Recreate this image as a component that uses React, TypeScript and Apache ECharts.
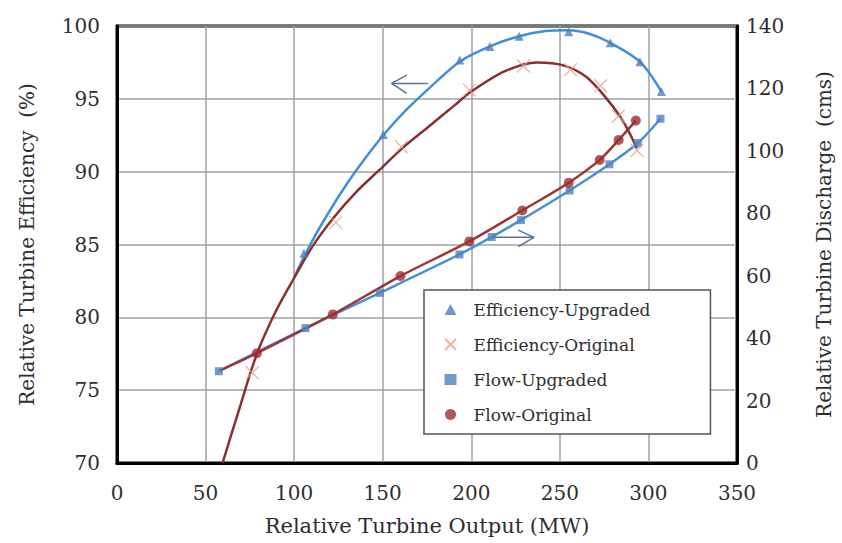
import React, { useEffect, useRef } from "react";
import * as echarts from "echarts";

// Markers: [output MW, value]
const effUpgraded: number[][] = [
  [105.5, 84.4], [150.3, 92.55], [193.5, 97.66], [210.5, 98.6], [227, 99.3],
  [255, 99.6], [278.5, 98.85], [295.2, 97.55], [307.3, 95.5],
];
const effOriginal: number[][] = [
  [76.4, 76.2], [123.5, 86.5], [160.5, 91.7], [199, 95.6], [229.5, 97.25],
  [256, 97.0], [273, 95.9], [283, 93.8], [293.5, 91.45],
];
const flowUpgraded: number[][] = [
  [57.5, 29.4], [106.4, 43.2], [148.4, 54.5], [193.3, 66.8], [211.5, 72.4],
  [228, 77.8], [255.5, 87.3], [278, 95.7], [294, 102.5], [306.8, 110.3],
];
const flowOriginal: number[][] = [
  [79, 35.2], [121.8, 47.6], [160, 59.9], [198.9, 71.0], [228.8, 80.9],
  [255, 89.8], [272.5, 97.1], [283.2, 103.5], [292.9, 109.7],
];

// Trend curves
const effUpgradedCurve: number[][] = [
  [99.8, 82.7], [110, 85.2], [120, 87.3], [130, 89.2], [140, 90.9],
  [150.3, 92.5], [163, 94.2], [176, 95.7], [193.4, 97.55], [210.5, 98.6],
  [227, 99.3], [242, 99.65], [255, 99.7], [267, 99.45], [278.4, 98.85],
  [295.2, 97.55], [307.3, 95.5],
];
const effOriginalCurve: number[][] = [
  [59.6, 70.0], [68, 73.3], [79, 77.5], [90, 80.5], [100, 82.7],
  [110, 84.8], [122, 86.8], [135, 88.6], [148, 90.1], [161, 91.6],
  [175, 93.0], [190, 94.5], [200, 95.5], [219, 96.9], [237, 97.5],
  [252, 97.3], [265, 96.5], [276.5, 95.0], [286, 93.4], [293.5, 91.6],
];
const flowUpgradedCurve: number[][] = flowUpgraded;
const flowOriginalCurve: number[][] = [[58, 29.6], ...flowOriginal];

// Annotation arrows (left axis units)
const arrowLeftShaft: number[][] = [[175.5, 96.06], [155, 96.06]];
const arrowLeftHead: number[][] = [[163.6, 96.63], [155, 96.06], [163.6, 95.37]];
const arrowRightShaft: number[][] = [[212, 85.49], [235.4, 85.49]];
const arrowRightHead: number[][] = [[226.5, 85.99], [235.4, 85.49], [226.5, 84.85]];

const xTickMin = 0, xTickMax = 350, xTickStep = 50;
const effMin = 70, effMax = 100, effStep = 5;
const flowMin = 0, flowMax = 140, flowStep = 20;

const FONT = "DejaVu Serif";
const TEXT = "#2e2e2e";

export default function App() {
  const ref = useRef<HTMLDivElement>(null);
  useEffect(() => {
    document.body.style.margin = "0";
    const chart = echarts.init(ref.current!, undefined, { renderer: "svg" });
    const arrowStyle = { color: "#5a7394", width: 1.5 };
    const arrowSeries = [arrowLeftShaft, arrowLeftHead, arrowRightShaft, arrowRightHead].map((d) => ({
      type: "line",
      data: d,
      yAxisIndex: 0,
      showSymbol: false,
      symbol: "none",
      lineStyle: arrowStyle,
      itemStyle: { color: arrowStyle.color },
      z: 4,
      silent: true,
    }));
    const curve = (data: number[][], axis: number, color: string) => ({
      type: "line", data, yAxisIndex: axis, smooth: 0.3,
      showSymbol: false, symbol: "none",
      lineStyle: { color, width: 2.5 }, z: 3, silent: true,
    });
    chart.setOption({
      animation: false,
      backgroundColor: "#fff",
      textStyle: { fontFamily: FONT },
      grid: {
        left: 117, right: 101, top: 26, bottom: 80,
        show: true, borderColor: "#000", borderWidth: 3, backgroundColor: "transparent",
      },
      legend: {
        data: ["Efficiency-Upgraded", "Efficiency-Original", "Flow-Upgraded", "Flow-Original"],
        orient: "vertical",
        left: 424,
        top: 290,
        itemWidth: 12,
        itemHeight: 11,
        itemGap: 18,
        padding: [11, 60, 11, 20],
        backgroundColor: "#fff",
        borderColor: "#555",
        borderWidth: 1.5,
        textStyle: { fontFamily: FONT, fontSize: 17, color: TEXT, padding: [0, 0, 0, 12] },
      },
      xAxis: {
        type: "value",
        min: xTickMin, max: xTickMax, interval: xTickStep,
        name: "Relative Turbine Output (MW)",
        nameLocation: "middle",
        nameGap: 52,
        nameTextStyle: { fontFamily: FONT, fontSize: 21, color: TEXT },
        axisLine: { show: true, lineStyle: { color: "#000", width: 3 } },
        axisTick: { show: false },
        axisLabel: { fontFamily: FONT, fontSize: 20, color: TEXT, margin: 20 },
        splitLine: { show: true, lineStyle: { color: "#a0a0a0", width: 1.5 } },
      },
      yAxis: [
        {
          type: "value",
          min: effMin, max: effMax, interval: effStep,
          name: "Relative Turbine Efficiency  (%)",
          nameLocation: "middle",
          nameGap: 80,
          nameTextStyle: { fontFamily: FONT, fontSize: 20, color: TEXT },
          axisLine: { show: true, lineStyle: { color: "#000", width: 3 } },
          axisTick: { show: false },
          axisLabel: { fontFamily: FONT, fontSize: 20, color: TEXT, margin: 17 },
          splitLine: { show: true, lineStyle: { color: "#a0a0a0", width: 1.5 } },
        },
        {
          type: "value",
          min: flowMin, max: flowMax, interval: flowStep,
          position: "right",
          name: "Relative Turbine Discharge  (cms)",
          nameLocation: "middle",
          nameGap: 77,
          nameTextStyle: { fontFamily: FONT, fontSize: 20, color: TEXT },
          axisLine: { show: true, lineStyle: { color: "#000", width: 3 } },
          axisTick: { show: false },
          axisLabel: { fontFamily: FONT, fontSize: 20, color: TEXT, margin: 9 },
          splitLine: { show: false },
        },
      ],
      series: [
        curve(flowUpgradedCurve, 1, "#4a8fd6"),
        curve(flowOriginalCurve, 1, "#9e3434"),
        curve(effUpgradedCurve, 0, "#3f8fdc"),
        curve(effOriginalCurve, 0, "#8a3030"),
        ...arrowSeries,
        {
          name: "Efficiency-Upgraded", type: "scatter", data: effUpgraded, yAxisIndex: 0,
          symbol: "triangle", symbolSize: 9, itemStyle: { color: "#4a7fbd" }, z: 5,
        },
        {
          name: "Efficiency-Original", type: "scatter", data: effOriginal, yAxisIndex: 0,
          symbol: "path://M0,0L10,10M10,0L0,10", symbolSize: 13,
          itemStyle: { color: "rgba(0,0,0,0)", borderColor: "#e9a08c", borderWidth: 1.3 }, z: 5,
        },
        {
          name: "Flow-Upgraded", type: "scatter", data: flowUpgraded, yAxisIndex: 1,
          symbol: "rect", symbolSize: 8, itemStyle: { color: "#4f81bd" }, z: 4,
        },
        {
          name: "Flow-Original", type: "scatter", data: flowOriginal, yAxisIndex: 1,
          symbol: "circle", symbolSize: 10, itemStyle: { color: "#9b2d30" }, z: 5,
        },
      ],
    });
    return () => chart.dispose();
  }, []);
  return <div ref={ref} style={{ width: 842, height: 543 }} />;
}
